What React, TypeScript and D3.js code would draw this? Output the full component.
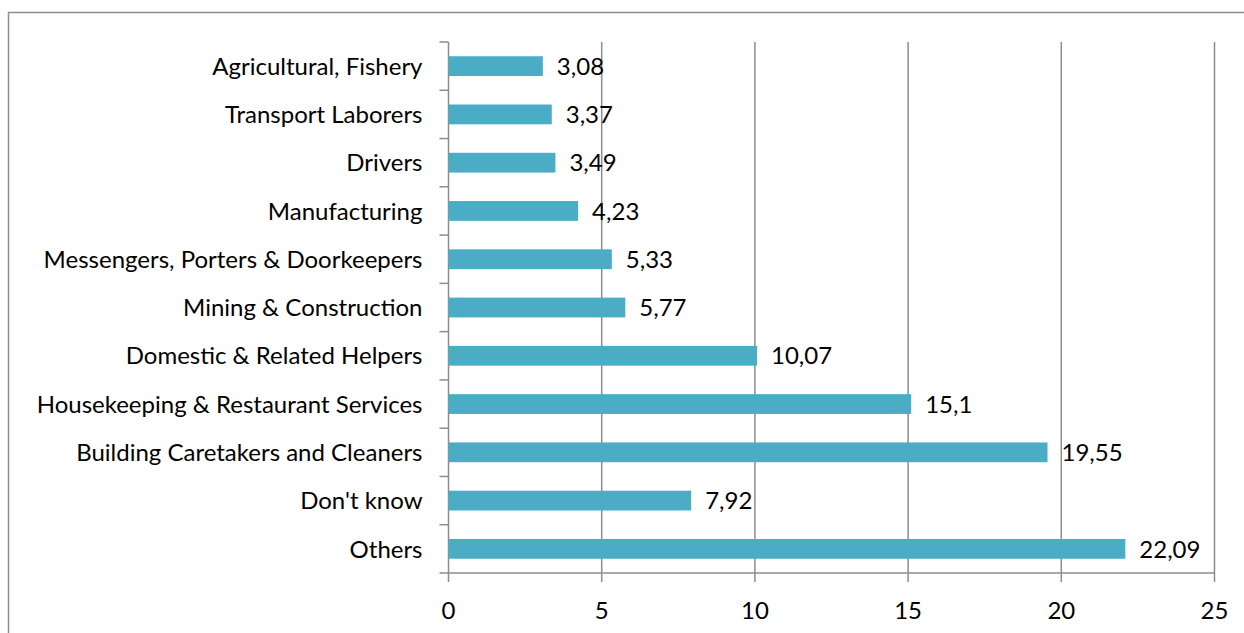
import React from "react";
import * as d3 from "d3";

const categories = [
  "Agricultural, Fishery",
  "Transport Laborers",
  "Drivers",
  "Manufacturing",
  "Messengers, Porters & Doorkeepers",
  "Mining & Construction",
  "Domestic & Related Helpers",
  "Housekeeping & Restaurant Services",
  "Building Caretakers and Cleaners",
  "Don't know",
  "Others",
];
const values = [3.08, 3.37, 3.49, 4.23, 5.33, 5.77, 10.07, 15.1, 19.55, 7.92, 22.09];
const valueLabels = ["3,08", "3,37", "3,49", "4,23", "5,33", "5,77", "10,07", "15,1", "19,55", "7,92", "22,09"];
const xTicks = [0, 5, 10, 15, 20, 25];

export default function App() {
  const W = 1244, H = 633;
  const left = 448.5, right = 1214.5, top = 42, bottom = 573;
  const x = d3.scaleLinear().domain([0, 25]).range([left, right]);
  const y = d3.scaleBand().domain(categories).range([top, bottom]).paddingInner(0.59).paddingOuter(0.295);
  const bands = d3.scaleBand().domain(categories).range([top, bottom]);
  const font = "Lato, sans-serif";
  const fs = 24;
  return (
    <svg width={W} height={H} style={{ position: "absolute", left: 0, top: 0 }}>
      <rect x={0} y={0} width={W} height={H} fill="#fff" />
      <rect x={8.5} y={12.5} width={W} height={H} fill="none" stroke="#8c8c8c" strokeWidth={1.5} />
      {xTicks.map((t) => (
        <line key={"g" + t} x1={x(t)} x2={x(t)} y1={top} y2={bottom + 9} stroke="#8c8c8c" strokeWidth={1.5} />
      ))}
      <line x1={left} x2={right} y1={bottom} y2={bottom} stroke="#8c8c8c" strokeWidth={1.5} />
      {categories.map((c) => (
        <line key={"t" + c} x1={left - 9} x2={left} y1={bands(c)!} y2={bands(c)!} stroke="#8c8c8c" strokeWidth={1.5} />
      ))}
      <line x1={left - 9} x2={left} y1={bottom} y2={bottom} stroke="#8c8c8c" strokeWidth={1.5} />
      {categories.map((c, i) => (
        <rect key={"b" + c} x={x(0)} y={y(c)!} width={x(values[i]) - x(0)} height={y.bandwidth()} fill="#4bacc6" />
      ))}
      {categories.map((c, i) => (
        <text key={"v" + c} x={x(values[i]) + 14} y={y(c)! + y.bandwidth() / 2} dy="0.36em" fontFamily={font} fontSize={fs} fill="#000">
          {valueLabels[i]}
        </text>
      ))}
      {categories.map((c) => (
        <text key={"l" + c} x={left - 26} y={bands(c)! + bands.bandwidth() / 2} dy="0.36em" textAnchor="end" fontFamily={font} fontSize={fs} fill="#000">
          {c}
        </text>
      ))}
      {xTicks.map((t) => (
        <text key={"x" + t} x={x(t)} y={610} dy="0.36em" textAnchor="middle" fontFamily={font} fontSize={fs} fill="#000">
          {t}
        </text>
      ))}
    </svg>
  );
}
